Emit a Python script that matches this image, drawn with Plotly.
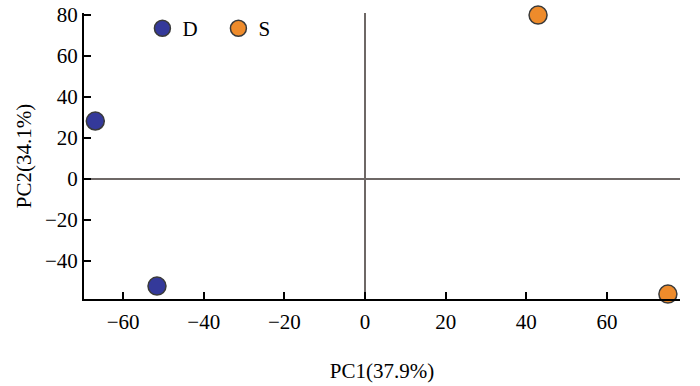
import plotly.graph_objects as go

groups = ["D", "S"]
pc1_D = [-66.9, -51.6]
pc2_D = [28.3, -52.2]
pc1_S = [42.9, 75.1]
pc2_S = [80.0, -56.1]
colors = {"D": "#34399A", "S": "#EE8B2B"}
x_ticks = [-60, -40, -20, 0, 20, 40, 60]
y_ticks = [-40, -20, 0, 20, 40, 60, 80]

font_family = "Liberation Serif, Times New Roman, serif"

fig = go.Figure()
for g, xs, ys in [("D", pc1_D, pc2_D), ("S", pc1_S, pc2_S)]:
    fig.add_trace(go.Scatter(
        x=xs, y=ys, mode="markers", name=g,
        marker=dict(size=18, color=colors[g], line=dict(color="#3a3a3a", width=1.5)),
        cliponaxis=False,
    ))

axis_common = dict(
    showgrid=False, showline=True, linecolor="black", linewidth=2,
    ticks="inside", ticklen=7, tickwidth=2, tickcolor="black",
    zeroline=True, zerolinecolor="#6e6866", zerolinewidth=2,
    tickfont=dict(family=font_family, size=21, color="black"),
    mirror=False, automargin=False, ticklabeloverflow="allow",
)

fig.update_xaxes(
    range=[-69.7, 78.1], tickvals=x_ticks, ticklabelstandoff=3,
    title=dict(text="PC1(37.9%)", font=dict(family=font_family, size=21, color="black"), standoff=30),
    **axis_common,
)
fig.update_yaxes(
    range=[-58.5, 81], tickvals=y_ticks, ticklabelstandoff=0,
    title=dict(text="PC2(34.1%)", font=dict(family=font_family, size=21, color="black"), standoff=8),
    **axis_common,
)

fig.update_layout(
    width=700, height=386,
    margin=dict(l=84, r=20, t=13, b=87, autoexpand=False),
    plot_bgcolor="white", paper_bgcolor="white",
    font=dict(family=font_family, size=21, color="black"),
    legend=dict(
        orientation="h", x=0.098, y=1.017, xanchor="left", yanchor="top",
        entrywidth=31, entrywidthmode="pixels",
        font=dict(family=font_family, size=21, color="black"),
        bgcolor="rgba(0,0,0,0)",
    ),
)

fig.write_html(
    "out.html",
    config={"displayModeBar": False},
    post_script="document.body.style.margin='0';document.body.style.overflow='hidden';",
)
